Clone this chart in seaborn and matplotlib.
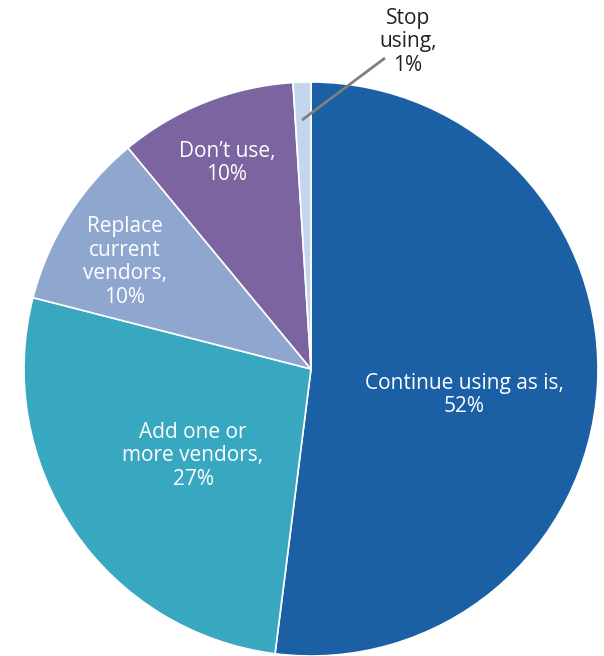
import matplotlib
matplotlib.use("Agg")
import matplotlib.pyplot as plt
import seaborn as sns

# Share of respondents by planned action
categories = ["Continue using as is", "Add one or more vendors", "Replace current vendors", "Don\u2019t use", "Stop using"]
shares = [52, 27, 10, 10, 1]
labels = ["Continue using as is,\n52%", "Add one or\nmore vendors,\n27%",
          "Replace\ncurrent\nvendors,\n10%", "Don\u2019t use,\n10%", "Stop\nusing,\n1%"]
colors = ["#1b5fa5", "#38a8c1", "#8fa7cf", "#7c64a0", "#c4d6ee"]

sns.set_theme(style="white")
plt.rcParams["font.family"] = ["Open Sans", "DejaVu Sans"]
palette = sns.color_palette(colors)

W, H = 604, 656
fig = plt.figure(figsize=(W / 100, H / 100), dpi=100)
ax = fig.add_axes([0, 0, 1, 1])

cx, cy, r = 311, H - 369, 287
ax.pie(shares, colors=palette, startangle=90, counterclock=False,
       center=(cx, cy), radius=r, frame=True,
       wedgeprops=dict(edgecolor="white", linewidth=1.2))
ax.set_xlim(0, W)
ax.set_ylim(0, H)
ax.axis("off")

# label offsets from the pie centre (pixels, y up)
offsets = [(153, -26), (-118, -87), (-186, 107), (-84, 206), (97, 327)]
for i, (lab, (dx, dy)) in enumerate(zip(labels, offsets)):
    ax.text(cx + dx, cy + dy, lab, ha="center", va="center", fontsize=15,
            color="white" if i < 4 else "#222222", linespacing=1.15)

# leader line for the smallest slice
ax.plot([cx + 74, cx - 9], [H - 58, H - 120], color="#7f7f7f", lw=2, solid_capstyle="butt")

fig.savefig("out.png", dpi=100)
